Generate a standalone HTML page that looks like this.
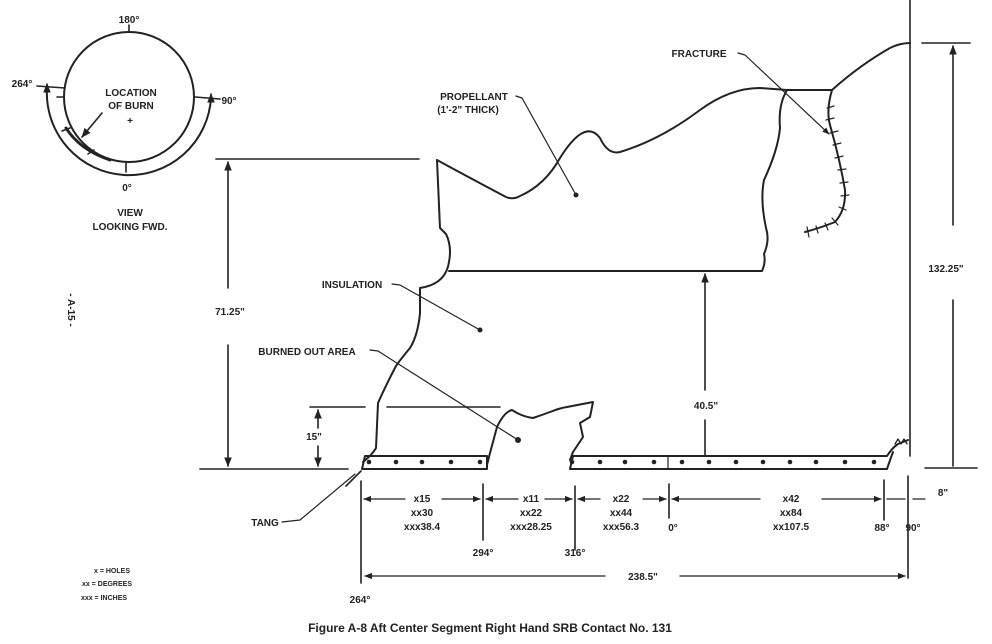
<!DOCTYPE html>
<html><head><meta charset="utf-8"><style>
html,body{margin:0;padding:0;background:#fff;}
svg{display:block;}
text{font-family:"Liberation Sans",sans-serif;font-weight:bold;fill:#222;}
</style></head><body>
<svg width="992" height="644" viewBox="0 0 992 644" xmlns="http://www.w3.org/2000/svg">
<defs>
<marker id="a" viewBox="0 0 10 10" refX="9" refY="5" markerWidth="6" markerHeight="6" orient="auto-start-reverse"><path d="M0,1 L10,5 L0,9 z" fill="#222"/></marker>
</defs>
<g fill="none" stroke="#222" stroke-width="1.6" stroke-linecap="round" stroke-linejoin="round">
<!-- circle view -->
<circle cx="129" cy="97" r="65" stroke-width="2"/>
<line x1="129" y1="25" x2="129" y2="32"/>
<line x1="126" y1="162" x2="126" y2="172"/>
<path d="M47,88 A82,82 0 0 0 211,98" stroke-width="2"/>
<path d="M47,90 L47,84" marker-end="url(#a)"/>
<path d="M211,100 L211,94" marker-end="url(#a)"/>
<line x1="37" y1="86" x2="65" y2="88"/>
<line x1="195" y1="97" x2="220" y2="99"/>
<line x1="57" y1="97" x2="64" y2="97"/>
<path d="M66,128 Q80,150 110,160" stroke-width="3"/>
<line x1="62" y1="131" x2="70" y2="128"/><line x1="88" y1="154" x2="94" y2="150"/>
<line x1="102" y1="113" x2="82" y2="137" marker-end="url(#a)"/>
<!-- main dims left -->
<line x1="216" y1="159" x2="419" y2="159"/>
<line x1="228" y1="162" x2="228" y2="288" marker-start="url(#a)"/>
<line x1="228" y1="345" x2="228" y2="466" marker-end="url(#a)"/>
<line x1="200" y1="469" x2="348" y2="469"/>
<line x1="310" y1="407" x2="365" y2="407"/><line x1="387" y1="407" x2="500" y2="407"/>
<line x1="318" y1="410" x2="318" y2="428" marker-start="url(#a)"/>
<line x1="318" y1="446" x2="318" y2="466" marker-end="url(#a)"/>
<!-- propellant outline -->
<path d="M437,160 L440,228 L446,234 Q452,246 449,262 Q446,282 425,287 L420,288 L420,313 Q418,335 410,348 Q400,360 396,366 Q386,385 378,403 L376,448 Q372,455 363,462" stroke-width="2"/>
<path d="M437,160 Q470,178 506,197 Q513,200 520,196 Q545,185 560,158 Q585,118 600,138 Q608,155 620,152 Q660,140 700,110 Q730,88 760,88 L787,90 L832,90 Q860,65 890,48 Q900,43 910,43" stroke-width="2"/>
<path d="M449,271 L762,271 Q766,262 764,254 Q770,240 766,228 Q760,200 764,180 Q778,150 780,128 Q778,105 787,90" stroke-width="2"/>
<path d="M832,90 Q826,110 830,125 Q840,160 845,190 Q846,210 835,222 Q820,228 805,232" stroke-width="2"/>
<g stroke-width="1.2">
<line x1="827" y1="108" x2="834" y2="106"/><line x1="826" y1="120" x2="834" y2="118"/><line x1="830" y1="133" x2="838" y2="131"/>
<line x1="833" y1="145" x2="841" y2="143"/><line x1="835" y1="158" x2="843" y2="156"/><line x1="838" y1="170" x2="846" y2="169"/>
<line x1="840" y1="183" x2="848" y2="182"/><line x1="841" y1="196" x2="849" y2="195"/><line x1="839" y1="207" x2="846" y2="210"/>
<line x1="832" y1="218" x2="838" y2="225"/><line x1="825" y1="223" x2="828" y2="230"/><line x1="816" y1="226" x2="818" y2="233"/><line x1="807" y1="227" x2="809" y2="237"/>
</g>
<!-- burned out area -->
<path d="M487,465 L490,453 Q494,438 497,427 Q504,412 512,410 L517,413 Q525,417 533,418 Q542,415 550,412 Q560,408 567,407 L593,402 L590,417 L580,423 L583,437 L573,452 L570,460" stroke-width="2"/>
<!-- tang bars -->
<path d="M362,469 L365,456 L487,456 L487,469 Z" stroke-width="2"/>
<path d="M570,469 L573,456 L887,456 Q892,448 898,444 L908,440 M887,469 L570,469 M887,469 Q890,460 893,452" stroke-width="2"/>
<path d="M895,444 l3,-5 l3,5 l3,-5 l3,5" stroke-width="1.3"/>
<line x1="668" y1="456" x2="668" y2="469" stroke-width="1.2"/>
<line x1="361" y1="471" x2="346" y2="486"/>
<!-- right dims -->
<line x1="910" y1="0" x2="910" y2="456"/>
<line x1="908" y1="476" x2="908" y2="578"/>
<line x1="922" y1="43" x2="970" y2="43"/>
<line x1="953" y1="225" x2="953" y2="46" marker-end="url(#a)"/>
<line x1="953" y1="300" x2="953" y2="466"/>
<line x1="925" y1="468" x2="977" y2="468"/>
<line x1="705" y1="390" x2="705" y2="274" marker-end="url(#a)"/>
<line x1="705" y1="420" x2="705" y2="455"/>
<!-- bottom dims -->
<line x1="361" y1="481" x2="361" y2="583"/>
<line x1="483" y1="484" x2="483" y2="540"/>
<line x1="575" y1="486" x2="575" y2="550"/>
<line x1="669" y1="484" x2="669" y2="518"/>
<line x1="884" y1="480" x2="884" y2="520"/>
<g stroke-width="1.3">
<line x1="405" y1="499" x2="364" y2="499" marker-end="url(#a)"/><line x1="442" y1="499" x2="480" y2="499" marker-end="url(#a)"/>
<line x1="518" y1="499" x2="486" y2="499" marker-end="url(#a)"/><line x1="545" y1="499" x2="572" y2="499" marker-end="url(#a)"/>
<line x1="600" y1="499" x2="578" y2="499" marker-end="url(#a)"/><line x1="643" y1="499" x2="666" y2="499" marker-end="url(#a)"/>
<line x1="760" y1="499" x2="672" y2="499" marker-end="url(#a)"/><line x1="822" y1="499" x2="881" y2="499" marker-end="url(#a)"/>
<line x1="887" y1="499" x2="905" y2="499"/><line x1="913" y1="499" x2="925" y2="499"/>
<line x1="605" y1="576" x2="365" y2="576" marker-end="url(#a)"/><line x1="680" y1="576" x2="905" y2="576" marker-end="url(#a)"/>
</g>
<!-- leaders -->
<g stroke-width="1.2">
<path d="M516,96 L522,98 L576,195"/>
<path d="M392,284 L400,285 L480,330"/>
<path d="M370,350 L378,351 L518,440"/>
<path d="M738,53 L745,55 L829,134" marker-end="url(#a)"/>
<path d="M282,522 L300,520 L355,474"/>
</g>
</g>
<g fill="#222">
<circle cx="576" cy="195" r="2.5"/><circle cx="480" cy="330" r="2.5"/><circle cx="518" cy="440" r="3"/>
<circle cx="369" cy="462" r="2.3"/><circle cx="396" cy="462" r="2.3"/><circle cx="422" cy="462" r="2.3"/><circle cx="451" cy="462" r="2.3"/><circle cx="480" cy="462" r="2.3"/>
<circle cx="572" cy="462" r="2.3"/><circle cx="600" cy="462" r="2.3"/><circle cx="625" cy="462" r="2.3"/><circle cx="654" cy="462" r="2.3"/><circle cx="682" cy="462" r="2.3"/><circle cx="709" cy="462" r="2.3"/><circle cx="736" cy="462" r="2.3"/><circle cx="763" cy="462" r="2.3"/><circle cx="790" cy="462" r="2.3"/><circle cx="816" cy="462" r="2.3"/><circle cx="845" cy="462" r="2.3"/><circle cx="874" cy="462" r="2.3"/>
</g>
<g font-size="10" text-anchor="middle">
<text x="129" y="23">180°</text>
<text x="22" y="87">264°</text>
<text x="229" y="104">90°</text>
<text x="127" y="191">0°</text>
<text x="131" y="96">LOCATION</text>
<text x="131" y="109">OF BURN</text>
<text x="130" y="124">+</text>
<text x="130" y="216">VIEW</text>
<text x="130" y="230">LOOKING FWD.</text>
<text x="474" y="100" >PROPELLANT</text>
<text x="468" y="113">(1'-2" THICK)</text>
<text x="352" y="288">INSULATION</text>
<text x="307" y="355">BURNED OUT AREA</text>
<text x="699" y="57">FRACTURE</text>
<text x="230" y="315">71.25"</text>
<text x="314" y="440">15"</text>
<text x="706" y="409">40.5"</text>
<text x="946" y="272">132.25"</text>
<text x="265" y="526">TANG</text>
<text x="422" y="502">x15</text><text x="422" y="516">xx30</text><text x="422" y="530">xxx38.4</text>
<text x="531" y="502">x11</text><text x="531" y="516">xx22</text><text x="531" y="530">xxx28.25</text>
<text x="621" y="502">x22</text><text x="621" y="516">xx44</text><text x="621" y="530">xxx56.3</text>
<text x="791" y="502">x42</text><text x="791" y="516">xx84</text><text x="791" y="530">xx107.5</text>
<text x="673" y="531">0°</text>
<text x="882" y="531">88°</text><text x="913" y="531">90°</text>
<text x="483" y="556">294°</text><text x="575" y="556">316°</text>
<text x="943" y="496">8"</text>
<text x="643" y="580">238.5"</text>
<text x="360" y="603">264°</text>
</g>
<g font-size="7" text-anchor="middle">
<text x="112" y="573">x = HOLES</text>
<text x="107" y="586">xx = DEGREES</text>
<text x="104" y="600">xxx = INCHES</text>
</g>
<text x="68" y="310" font-size="10" text-anchor="middle" transform="rotate(90 68 310)">- A-15 -</text>
<text x="490" y="632" font-size="12" text-anchor="middle">Figure A-8  Aft Center Segment Right Hand SRB Contact No. 131</text>
</svg>
</body></html>
